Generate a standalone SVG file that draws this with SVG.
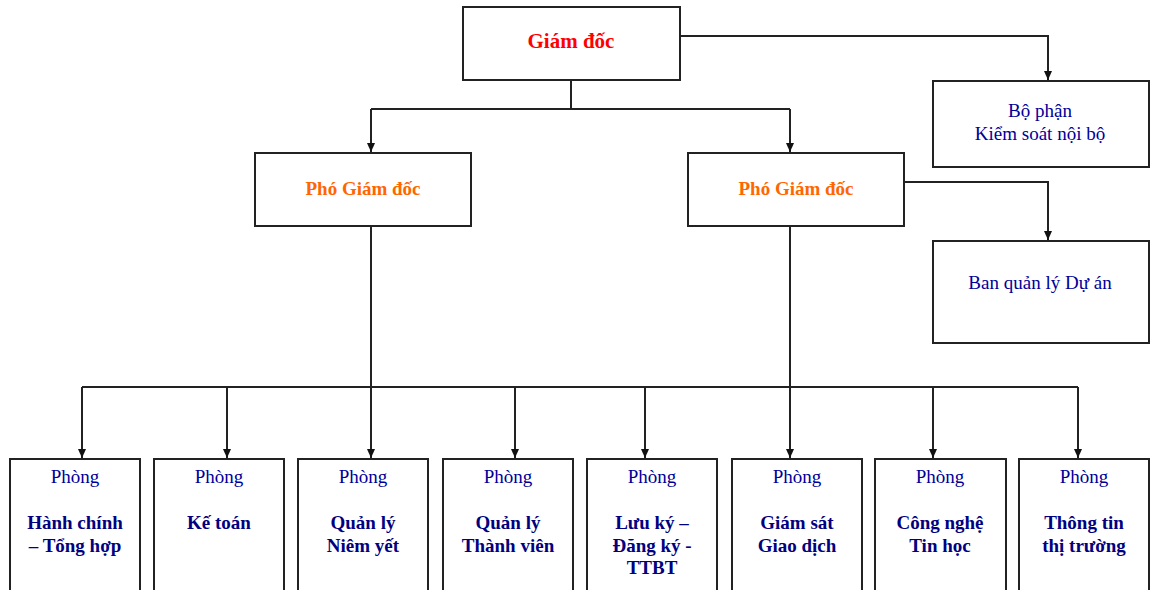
<svg xmlns="http://www.w3.org/2000/svg" width="1150" height="590" viewBox="0 0 1150 590">
<style>
.box{fill:#fff;stroke:#222;stroke-width:2}
.ln{fill:none;stroke:#222;stroke-width:2}
text{font-family:"Liberation Serif","Times New Roman",serif;text-anchor:middle}
.red{fill:#ff0000;font-weight:bold;font-size:21px}
.org{fill:#ff6600;font-weight:bold;font-size:19px}
.reg{fill:#000099;font-size:19px}
.bld{fill:#000080;font-weight:bold;font-size:19px}
</style>
<defs>
<marker id="ah" markerWidth="10" markerHeight="10" refX="9" refY="5" orient="auto" markerUnits="userSpaceOnUse">
<path d="M0,1 L9,5 L0,9 Z" fill="#111"/>
</marker>
</defs>
<rect width="1150" height="590" fill="#fff"/>
<g id="connectors">
<path class="ln" d="M680,36 H1048 V80" marker-end="url(#ah)"/>
<path class="ln" d="M571,80 V109"/>
<path class="ln" d="M371,109 H790"/>
<path class="ln" d="M371,109 V152" marker-end="url(#ah)"/>
<path class="ln" d="M790,109 V152" marker-end="url(#ah)"/>
<path class="ln" d="M904,182 H1048 V240" marker-end="url(#ah)"/>
<path class="ln" d="M371,226 V458" marker-end="url(#ah)"/>
<path class="ln" d="M790,226 V458" marker-end="url(#ah)"/>
<path class="ln" d="M82,387 H1078"/>
<path class="ln" d="M82,387 V458" marker-end="url(#ah)"/>
<path class="ln" d="M227,387 V458" marker-end="url(#ah)"/>
<path class="ln" d="M515,387 V458" marker-end="url(#ah)"/>
<path class="ln" d="M645,387 V458" marker-end="url(#ah)"/>
<path class="ln" d="M933,387 V458" marker-end="url(#ah)"/>
<path class="ln" d="M1078,387 V458" marker-end="url(#ah)"/>
</g>
<g id="giam-doc">
<rect class="box" x="463" y="7" width="217" height="73"/>
<text class="red" x="571" y="48">Giám đốc</text>
</g>
<g id="kiem-soat">
<rect class="box" x="933" y="81" width="216" height="86"/>
<text class="reg" x="1040" y="117">Bộ phận</text>
<text class="reg" x="1040" y="140">Kiểm soát nội bộ</text>
</g>
<g id="ban-quan-ly">
<rect class="box" x="933" y="241" width="216" height="102"/>
<text class="reg" x="1040" y="289">Ban quản lý Dự án</text>
</g>
<g id="pho-gd-1">
<rect class="box" x="255" y="153" width="216" height="73"/>
<text class="org" x="363" y="195">Phó Giám đốc</text>
</g>
<g id="pho-gd-2">
<rect class="box" x="688" y="153" width="216" height="73"/>
<text class="org" x="796" y="195">Phó Giám đốc</text>
</g>
<g id="p1">
<rect class="box" x="10" y="459" width="130" height="140"/>
<text class="reg" x="75" y="483">Phòng</text>
<text class="bld" x="75" y="529">Hành chính</text>
<text class="bld" x="75" y="552">– Tổng hợp</text>
</g>
<g id="p2">
<rect class="box" x="154" y="459" width="130" height="140"/>
<text class="reg" x="219" y="483">Phòng</text>
<text class="bld" x="219" y="529">Kế toán</text>
</g>
<g id="p3">
<rect class="box" x="298" y="459" width="130" height="140"/>
<text class="reg" x="363" y="483">Phòng</text>
<text class="bld" x="363" y="529">Quản lý</text>
<text class="bld" x="363" y="552">Niêm yết</text>
</g>
<g id="p4">
<rect class="box" x="443" y="459" width="130" height="140"/>
<text class="reg" x="508" y="483">Phòng</text>
<text class="bld" x="508" y="529">Quản lý</text>
<text class="bld" x="508" y="552">Thành viên</text>
</g>
<g id="p5">
<rect class="box" x="587" y="459" width="130" height="140"/>
<text class="reg" x="652" y="483">Phòng</text>
<text class="bld" x="652" y="529">Lưu ký –</text>
<text class="bld" x="652" y="552">Đăng ký -</text>
<text class="bld" x="652" y="574">TTBT</text>
</g>
<g id="p6">
<rect class="box" x="732" y="459" width="130" height="140"/>
<text class="reg" x="797" y="483">Phòng</text>
<text class="bld" x="797" y="529">Giám sát</text>
<text class="bld" x="797" y="552">Giao dịch</text>
</g>
<g id="p7">
<rect class="box" x="875" y="459" width="131" height="140"/>
<text class="reg" x="940" y="483">Phòng</text>
<text class="bld" x="940" y="529">Công nghệ</text>
<text class="bld" x="940" y="552">Tin học</text>
</g>
<g id="p8">
<rect class="box" x="1019" y="459" width="130" height="140"/>
<text class="reg" x="1084" y="483">Phòng</text>
<text class="bld" x="1084" y="529">Thông tin</text>
<text class="bld" x="1084" y="552">thị trường</text>
</g>
</svg>
